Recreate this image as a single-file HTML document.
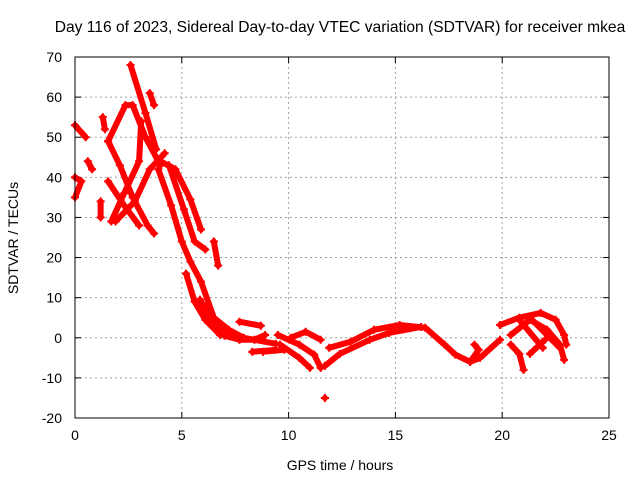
<!DOCTYPE html>
<html><head><meta charset="utf-8"><style>
body{margin:0;background:#fff}
svg text{font-family:"Liberation Sans",sans-serif;font-size:14px;fill:#000}
</style></head><body>
<svg id="c" width="640" height="480">
<rect width="640" height="480" fill="#fff"/>
<text x="340" y="32" text-anchor="middle" style="font-size:15.6px">Day 116 of 2023, Sidereal Day-to-day VTEC variation (SDTVAR) for receiver mkea</text>
<text x="340" y="470" text-anchor="middle">GPS time / hours</text>
<text transform="translate(18,238) rotate(-90)" text-anchor="middle">SDTVAR / TECUs</text>
<g id="grid"></g><g id="marks"></g>
<rect x="75" y="57" width="534" height="361" fill="none" stroke="#000" stroke-width="1"/>
</svg>
<script>
const xTicks=[0,5,10,15,20,25];
const yTicks=[-20,-10,0,10,20,30,40,50,60,70];
const tracks=[
[[2.6,68],[3.3,56],[3.8,47]],
[[1.55,49],[2.36,58],[2.7,58],[3.3,50],[4.0,43]],
[[1.55,49],[2.1,43],[2.7,35],[3.4,28],[3.7,26]],
[[1.7,29],[2.3,36],[3.0,44],[3.1,54]],
[[1.9,29],[2.8,34],[3.5,42],[4.2,46]],
[[1.55,39],[2.3,33],[3.0,28]],
[[4.0,44],[4.7,42],[5.4,34.5],[5.9,27]],
[[3.9,42],[4.5,33],[5.0,24],[5.4,19],[5.9,14],[6.5,5],[7.2,2],[7.9,0],[9.4,-1.5]],
[[4.4,43],[5.1,32],[5.6,24],[6.1,22]],
[[6.5,24],[6.7,18]],
[[1.3,55],[1.4,52]],
[[0,53],[0.5,50]],
[[0,40],[0.3,39],[0,35]],
[[0.6,44],[0.8,42]],
[[1.2,34],[1.2,30]],
[[3.5,61],[3.7,58]],
[[5.2,16],[5.6,9],[6.1,4.5],[6.8,0.7]],
[[5.85,9.5],[6.55,3],[7.2,0.7]],
[[6.3,4],[7.0,0.5],[7.7,-0.5]],
[[7.7,4],[8.7,3]],
[[7.7,-0.5],[8.4,-0.5],[8.9,0.7]],
[[8.3,-3.5],[9.4,-3]],
[[9.5,0.7],[10.5,-1.7],[11.2,-4.2],[11.5,-7.5]],
[[9.6,-1.7],[10.5,-5],[11.0,-7.5]],
[[10.1,0],[10.8,1.5],[11.5,-0.5]],
[[11.7,-7],[12.4,-4],[13.8,-0.5],[14.7,1.2],[16.2,2.7]],
[[11.9,-2.5],[12.9,-1],[14.0,2],[15.2,3.2],[16.4,2.5],[17.3,-1.7],[17.8,-4.2],[18.5,-6],[18.96,-5],[19.9,-0.5]],
[[18.5,-6],[18.9,-3],[18.7,-1.7]],
[[19.9,3.2],[20.8,5],[21.8,6.2],[22.5,4.5],[22.9,0.7],[23.0,-1.7]],
[[20.4,0.7],[21.3,4.5],[22.1,2],[22.7,-1.7],[22.9,-5.5]],
[[20.4,-1.7],[20.8,-4],[21.0,-8]],
[[21.3,-4],[22.0,-0.5]],
[[20.8,4.5],[21.9,-2.5]],
[[21.3,5],[22.7,-2.5]],
[[11.7,-15],[11.7,-15]],
[[8.8,-3.5],[9.8,-3]]
];
const X0=75,X1=609,Y0=418,Y1=57;
function sx(v){return X0+(v-0)/(25-0)*(X1-X0);}
function sy(v){return Y0-(v+20)/(90)*(Y0-Y1);}
const NS='http://www.w3.org/2000/svg';
const grid=document.getElementById('grid'),marks=document.getElementById('marks'),svg=document.getElementById('c');
function mk(t,a,p){const e=document.createElementNS(NS,t);for(const k in a)e.setAttribute(k,a[k]);p.appendChild(e);return e;}
xTicks.forEach(v=>{const x=sx(v);
 if(v>0&&v<25){const g=mk('line',{x1:x,x2:x,y1:Y1,y2:Y0,stroke:'#a0a0a0','stroke-dasharray':'2,3'},grid);
 
 }
 const t=mk('text',{x:x,y:Y0+22,'text-anchor':'middle'},svg);t.textContent=v;
 
 
 mk('line',{x1:x,x2:x,y1:Y0,y2:Y0-6,stroke:'#000'},grid);mk('line',{x1:x,x2:x,y1:Y1,y2:Y1+6,stroke:'#000'},grid);});
yTicks.forEach(v=>{const y=sy(v);
 if(v>-20&&v<70){const g=mk('line',{x1:X0,x2:X1,y1:y,y2:y,stroke:'#a0a0a0','stroke-dasharray':'2,3'},grid);
 
 }
 const t=mk('text',{x:62,y:y+5,'text-anchor':'end'},svg);t.textContent=v;
 
 
 mk('line',{x1:X0,x2:X0+6,y1:y,y2:y,stroke:'#000'},grid);mk('line',{x1:X1,x2:X1-6,y1:y,y2:y,stroke:'#000'},grid);});
tracks.forEach(tr=>{
 const pts=tr.map(p=>sx(p[0])+','+sy(p[1])).join(' ');
 const pl=mk('polyline',{points:pts,fill:'none',stroke:'#f00','stroke-width':6,'stroke-linejoin':'round','stroke-linecap':'round'},marks);
 
 
 tr.forEach(p=>{const x=sx(p[0]),y=sy(p[1]);
  const m=mk('path',{d:`M${x-4},${y}H${x+4}M${x},${y-4}V${y+4}`,stroke:'#f00','stroke-width':2},marks);
  
  });
});
</script>
</body></html>
